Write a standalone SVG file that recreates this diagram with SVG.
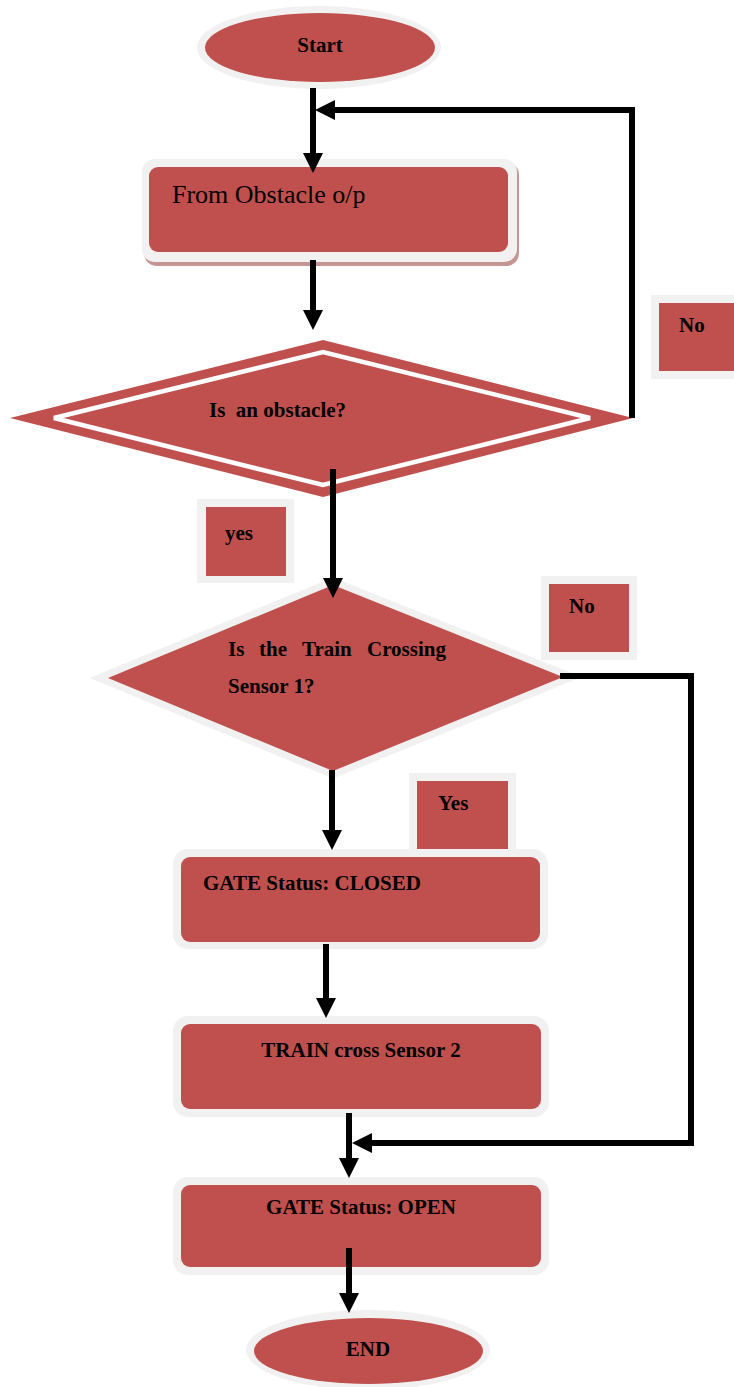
<svg xmlns="http://www.w3.org/2000/svg" width="734" height="1387" viewBox="0 0 734 1387">
  <style>
    .halo { fill: #F1F1F1; }
    .fill { fill: #C0504D; }
    .lbl { font-family: "Liberation Serif", "Times New Roman", serif; font-weight: bold; font-size: 21px; fill: #000; }
    .reg { font-family: "Liberation Serif", "Times New Roman", serif; font-size: 26px; fill: #000; }
    .wire { fill: none; stroke: #000; stroke-width: 6; stroke-linejoin: miter; marker-end: url(#head); }
  </style>
  <defs>
    <marker id="head" markerUnits="userSpaceOnUse" markerWidth="20" markerHeight="20" refX="0" refY="10" orient="auto" overflow="visible">
      <path d="M0,0 L20,10 L0,20 Z" fill="#000"/>
    </marker>
  </defs>

  <rect width="734" height="1387" fill="#fff"/>

  <!-- terminator: start -->
  <g id="start">
    <ellipse class="halo" cx="319" cy="47.5" rx="122" ry="41.5"/>
    <ellipse class="fill" cx="320" cy="47.5" rx="115" ry="34.5"/>
    <text class="lbl" x="320" y="52" text-anchor="middle">Start</text>
  </g>

  <!-- process: read obstacle sensor -->
  <g id="obstacle-input">
    <rect x="144" y="162" width="375" height="104" rx="13" fill="#A65C59" opacity="0.65"/>
    <rect class="halo" x="142" y="159" width="375" height="103" rx="13"/>
    <rect class="fill" x="149" y="167" width="359" height="85" rx="9"/>
    <text class="reg" x="172" y="203">From Obstacle o/p</text>
  </g>

  <!-- decision: obstacle present -->
  <g id="obstacle-check">
    <polygon class="fill" points="10,418 323,340 633,418 323,497"/>
    <polygon points="54,418 323,352 590,418 323,485" fill="none" stroke="#fff" stroke-width="4.5"/>
    <text class="lbl" x="209" y="417" xml:space="preserve">Is  an obstacle?</text>
  </g>

  <!-- branch labels for the obstacle decision -->
  <g id="label-no-1">
    <rect class="halo" x="651" y="295" width="90" height="84"/>
    <rect class="fill" x="659" y="303" width="82" height="68"/>
    <text class="lbl" x="679" y="332">No</text>
  </g>
  <g id="label-yes-1">
    <rect class="halo" x="197" y="499" width="97" height="84"/>
    <rect class="fill" x="206" y="507" width="80" height="69"/>
    <text class="lbl" x="225" y="540">yes</text>
  </g>

  <!-- decision: train at sensor 1 -->
  <g id="sensor1-check">
    <polygon points="108,678 333,585 563,677 333,771" fill="#F1F1F1" stroke="#F1F1F1" stroke-width="14" stroke-linejoin="miter" stroke-miterlimit="10"/>
    <polygon class="fill" points="108,678 333,585 563,677 333,771"/>
    <text class="lbl" y="656"><tspan x="228">Is</tspan><tspan x="259">the</tspan><tspan x="302">Train</tspan><tspan x="367">Crossing</tspan></text>
    <text class="lbl" x="228" y="693">Sensor 1?</text>
  </g>

  <!-- branch labels for the sensor decision -->
  <g id="label-no-2">
    <rect class="halo" x="541" y="576" width="96" height="84"/>
    <rect class="fill" x="549" y="584" width="80" height="68"/>
    <text class="lbl" x="569" y="613">No</text>
  </g>
  <g id="label-yes-2">
    <rect class="halo" x="409" y="773" width="107" height="84"/>
    <rect class="fill" x="417" y="781" width="91" height="68"/>
    <text class="lbl" x="438" y="810">Yes</text>
  </g>

  <!-- process: close gate -->
  <g id="gate-closed">
    <rect class="halo" x="173" y="849" width="375" height="100" rx="15"/>
    <rect class="fill" x="181" y="857" width="359" height="85" rx="9"/>
    <text class="lbl" x="203" y="890">GATE Status: CLOSED</text>
  </g>

  <!-- process: train passes sensor 2 -->
  <g id="train-sensor2">
    <rect class="halo" x="173" y="1016" width="376" height="101" rx="15"/>
    <rect class="fill" x="181" y="1024" width="360" height="85" rx="9"/>
    <text class="lbl" x="361" y="1057" text-anchor="middle">TRAIN cross Sensor 2</text>
  </g>

  <!-- process: open gate -->
  <g id="gate-open">
    <rect class="halo" x="173" y="1177" width="376" height="98" rx="15"/>
    <rect class="fill" x="181" y="1185" width="360" height="82" rx="9"/>
    <text class="lbl" x="361" y="1214" text-anchor="middle">GATE Status: OPEN</text>
  </g>

  <!-- terminator: end -->
  <g id="end">
    <ellipse class="halo" cx="368" cy="1350" rx="122" ry="40"/>
    <ellipse class="fill" cx="368.5" cy="1351" rx="114.5" ry="33"/>
    <text class="lbl" x="368" y="1356" text-anchor="middle">END</text>
  </g>

  <!-- flow lines -->
  <g id="connectors">
    <path class="wire" d="M313,88 V153"/>
    <path class="wire" d="M632,418 V110 H335"/>
    <path class="wire" d="M313,260 V310"/>
    <path class="wire" d="M333,469 V578"/>
    <path class="wire" d="M332,770 V830"/>
    <path class="wire" d="M326,944 V998"/>
    <path class="wire" d="M349,1113 V1158"/>
    <path class="wire" d="M560,676 H691 V1143 H372"/>
    <path class="wire" d="M349,1248 V1293"/>
  </g>
</svg>
